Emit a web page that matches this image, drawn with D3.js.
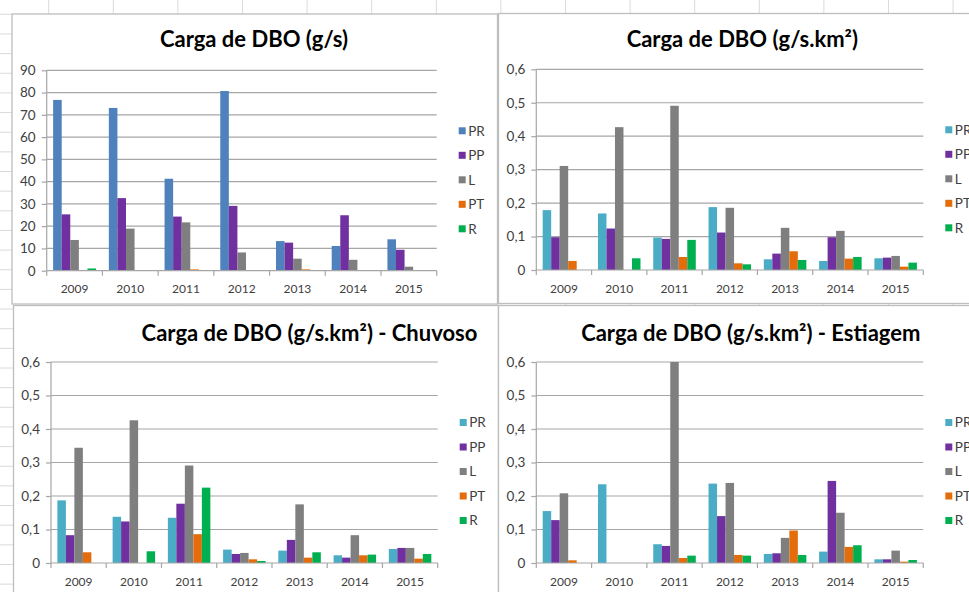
<!DOCTYPE html>
<html><head><meta charset="utf-8">
<script src="https://cdn.jsdelivr.net/npm/d3@7"></script>
<style>html,body{margin:0;padding:0;background:#fff;overflow:hidden}</style>
</head><body>
<svg id="c" width="969" height="592"></svg>
<script>
const years = ["2009","2010","2011","2012","2013","2014","2015"];
const seriesNames = ["PR","PP","L","PT","R"];

// Carga de DBO (g/s)
const gsPR = [76.7, 73.1, 41.3, 80.7, 13.3, 11.1, 14.1];
const gsPP = [25.3, 32.6, 24.3, 29.1, 12.6, 24.9, 9.4];
const gsL  = [13.8, 18.9, 21.7, 8.2, 5.4, 4.9, 1.8];
const gsPT = [0.3, 0, 0.6, 0.3, 0.6, 0.3, 0.3];
const gsR  = [1.0, 0, 0, 0, 0, 0, 0];

// Carga de DBO (g/s.km²)
const kmPR = [0.179, 0.169, 0.097, 0.188, 0.032, 0.027, 0.035];
const kmPP = [0.098, 0.124, 0.093, 0.112, 0.049, 0.098, 0.037];
const kmL  = [0.311, 0.427, 0.491, 0.186, 0.126, 0.117, 0.042];
const kmPT = [0.027, 0, 0.039, 0.020, 0.056, 0.034, 0.010];
const kmR  = [0, 0.035, 0.090, 0.017, 0.030, 0.039, 0.022];

// Chuvoso
const chPR = [0.187, 0.138, 0.135, 0.040, 0.037, 0.023, 0.042];
const chPP = [0.083, 0.124, 0.177, 0.027, 0.069, 0.016, 0.045];
const chL  = [0.344, 0.426, 0.291, 0.030, 0.175, 0.083, 0.045];
const chPT = [0.032, 0, 0.086, 0.011, 0.016, 0.023, 0.013];
const chR  = [0, 0.035, 0.225, 0.006, 0.032, 0.025, 0.027];

// Estiagem
const esPR = [0.155, 0.235, 0.056, 0.237, 0.027, 0.034, 0.011];
const esPP = [0.128, 0, 0.051, 0.140, 0.029, 0.245, 0.011];
const esL  = [0.208, 0, 0.600, 0.239, 0.075, 0.150, 0.037];
const esPT = [0.008, 0, 0.015, 0.024, 0.097, 0.048, 0.004];
const esR  = [0, 0, 0.022, 0.022, 0.024, 0.053, 0.009];

const ticksGs = [0,10,20,30,40,50,60,70,80,90];
const ticksKm = [0,0.1,0.2,0.3,0.4,0.5,0.6];

const titles = ["Carga de DBO (g/s)", "Carga de DBO (g/s.km²)",
  "Carga de DBO (g/s.km²) - Chuvoso", "Carga de DBO (g/s.km²) - Estiagem"];

const colorsA = ["#4F81BD","#7030A0","#7F7F7F","#E46C0A","#00B050"];
const colorsB = ["#4BACC6","#7030A0","#7F7F7F","#E46C0A","#00B050"];

const svg = d3.select("#c");
const font = "Lato, 'Open Sans', sans-serif";

// spreadsheet background grid
const bg = svg.append("g");
d3.range(0, 16).forEach(k => {
  const x = 48.7 + 64.6 * k - 64.6;
  bg.append("line").attr("x1", x).attr("x2", x).attr("y1", 0).attr("y2", 592)
    .attr("stroke", "#DADADA").attr("stroke-width", 1);
});
d3.range(0, 32).forEach(k => {
  const y = 14.3 + 19.65 * k;
  bg.append("line").attr("x1", 0).attr("x2", 969).attr("y1", y).attr("y2", y)
    .attr("stroke", "#DADADA").attr("stroke-width", 1);
});

const panels = [
  {frame:[12,14,497.5,304], plot:[46.7,70.3,436.7,270.7], data:[gsPR,gsPP,gsL,gsPT,gsR],
   ticks:ticksGs, max:90, colors:colorsA, title:titles[0], tx:254, ty:47},
  {frame:[498.5,13.5,1000,303.5], plot:[536.3,69.3,923.3,270], data:[kmPR,kmPP,kmL,kmPT,kmR],
   ticks:ticksKm, max:0.6, colors:colorsB, title:titles[1], tx:742.3, ty:47},
  {frame:[13.5,305.5,498.5,700], plot:[51,362,437.7,563], data:[chPR,chPP,chL,chPT,chR],
   ticks:ticksKm, max:0.6, colors:colorsB, title:titles[2], tx:309.5, ty:340.5},
  {frame:[498.5,305.5,1000,700], plot:[536.3,362,923.3,563], data:[esPR,esPP,esL,esPT,esR],
   ticks:ticksKm, max:0.6, colors:colorsB, title:titles[3], tx:750.8, ty:340.5}
];

const fmt = v => v === 0 ? "0" : (v >= 1 ? d3.format("d")(v) : d3.format(".1f")(v).replace(".", ","));

panels.forEach(p => {
  const g = svg.append("g");
  const [fx0, fy0, fx1, fy1] = p.frame;
  g.append("rect").attr("x", fx0).attr("y", fy0).attr("width", fx1 - fx0).attr("height", fy1 - fy0)
    .attr("fill", "#fff").attr("stroke", "#BEBEBE").attr("stroke-width", 1.3);

  const [L, T, R, B] = p.plot;
  const x0 = d3.scaleBand().domain(years).range([L, R]).padding(0);
  const barW = x0.bandwidth() / 6.5;
  const x1 = d3.scaleBand().domain(seriesNames)
    .range([0.75 * barW, 0.75 * barW + 5 * barW]).padding(0);
  const y = d3.scaleLinear().domain([0, p.max]).range([B, T]);

  // gridlines
  g.append("g").selectAll("line").data(p.ticks.filter(t => t > 0)).join("line")
    .attr("x1", L).attr("x2", R).attr("y1", d => y(d)).attr("y2", d => y(d))
    .attr("stroke", "#A6A6A6").attr("stroke-width", 1.2);

  // bars
  seriesNames.forEach((s, si) => {
    g.append("g").selectAll("rect").data(p.data[si]).join("rect")
      .attr("x", (d, i) => x0(years[i]) + x1(s))
      .attr("width", x1.bandwidth())
      .attr("y", d => y(Math.min(d, p.max)))
      .attr("height", d => B - y(Math.min(d, p.max)))
      .attr("fill", p.colors[si]);
  });

  // y axis
  const ya = d3.axisLeft(y).tickValues(p.ticks).tickSize(5).tickPadding(6).tickFormat(fmt);
  const yg = g.append("g").attr("transform", `translate(${L},0)`).call(ya);
  yg.select(".domain").attr("stroke", "#A6A6A6").attr("stroke-width", 1.2).attr("d", `M0,${B}V${T}`);
  yg.selectAll(".tick line").attr("stroke", "#A6A6A6").attr("stroke-width", 1.2);
  yg.selectAll(".tick text").attr("fill", "#404040").style("font-family", font).style("font-size", "13.5px");

  // x axis
  const xa = d3.axisBottom(x0).tickSize(0).tickPadding(14);
  const xg = g.append("g").attr("transform", `translate(0,${B})`).call(xa);
  xg.select(".domain").attr("stroke", "#A6A6A6").attr("stroke-width", 1.2).attr("d", `M${L},0H${R}`);
  xg.selectAll(".tick text").attr("fill", "#404040").style("font-family", font).style("font-size", "12px");
  // category separator ticks
  g.append("g").selectAll("line").data(years.concat(["end"])).join("line")
    .attr("x1", (d, i) => i < years.length ? x0(d) : R)
    .attr("x2", (d, i) => i < years.length ? x0(d) : R)
    .attr("y1", B).attr("y2", B + 5)
    .attr("stroke", "#A6A6A6").attr("stroke-width", 1.2);

  // title
  g.append("text").attr("x", p.tx).attr("y", p.ty).attr("text-anchor", "middle")
    .style("font-family", font).style("font-weight", "bold").style("font-size", "22px")
    .attr("fill", "#000").text(p.title);

  // legend
  const lg = g.append("g");
  seriesNames.forEach((s, si) => {
    const cy = T + 60.5 + si * 24.5;
    lg.append("rect").attr("x", R + 22).attr("y", cy - 3.5).attr("width", 7).attr("height", 7)
      .attr("fill", p.colors[si]);
    lg.append("text").attr("x", R + 31.5).attr("y", cy).attr("dy", "0.36em")
      .style("font-family", font).style("font-size", "13.5px").attr("fill", "#404040").text(s);
  });
});
</script>
</body></html>
